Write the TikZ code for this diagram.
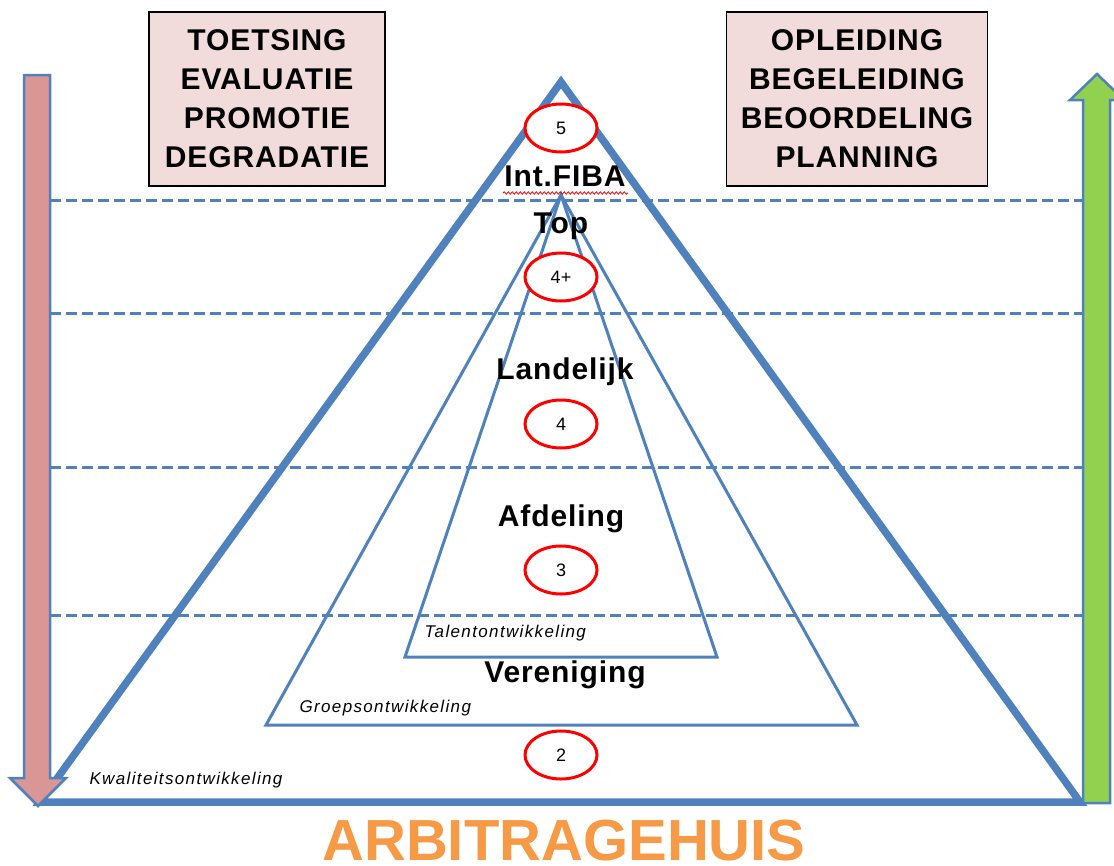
\documentclass[tikz,border=0pt]{standalone}
\usepackage{fontspec}
\setmainfont{Liberation Sans}
\newfontfamily\widesans[LetterSpace=3]{Liberation Sans}
\newfontfamily\loosesans[LetterSpace=8]{Liberation Sans}
\usetikzlibrary{shapes.geometric,decorations.pathmorphing}

\definecolor{pyrblue}{HTML}{4F81BD}
\definecolor{boxpink}{HTML}{F2DCDB}
\definecolor{downred}{HTML}{D99694}
\definecolor{upgreen}{HTML}{92D050}
\definecolor{houseorange}{HTML}{F79A46}

\tikzset{
  levelname/.style={font=\widesans\fontsize{30}{30}\selectfont\bfseries},
  devname/.style={anchor=west, font=\loosesans\fontsize{17}{17}\selectfont\itshape},
  levelnum/.style={shape=ellipse, draw=red, line width=3, fill=white, minimum width=72, minimum height=48, inner sep=0, font=\fontsize{18}{18}\selectfont},
  infobox/.style={draw=black, line width=1.5, fill=boxpink, align=center, inner sep=0, minimum width=236, minimum height=174, font=\widesans\fontsize{30}{39}\selectfont\bfseries},
  levelline/.style={pyrblue, line width=3, dash pattern=on 11 off 5}
}

\begin{document}
\begin{tikzpicture}[x=1pt, y=-1pt]

\useasboundingbox ( 0, 0 ) rectangle ( 1114, 865 );

% Level lines
\draw [levelline] ( 50, 200 ) -- ( 1083, 200 );
\draw [levelline] ( 50, 313 ) -- ( 1083, 313 );
\draw [levelline] ( 50, 467 ) -- ( 1083, 467 );
\draw [levelline] ( 50, 615 ) -- ( 1083, 615 );

% Pyramids
\draw [pyrblue, line width=7.5] ( 561, 82 ) -- ( 1080, 802 ) -- ( 40, 802 ) -- cycle;
\draw [pyrblue, line width=3] ( 561, 195 ) -- ( 857, 725 ) -- ( 266, 725 ) -- cycle;
\draw [pyrblue, line width=3] ( 561, 195 ) -- ( 717, 657 ) -- ( 405, 657 ) -- cycle;

% Arrows
\filldraw [fill=downred, draw=pyrblue, line width=2.5] ( 24, 75 ) -- ( 50, 75 ) -- ( 50, 778 ) -- ( 66, 778 ) -- ( 38, 806 ) -- ( 10, 778 ) -- ( 24, 778 ) -- cycle;
\filldraw [fill=upgreen, draw=pyrblue, line width=2.5] ( 1083, 803 ) -- ( 1083, 100 ) -- ( 1070, 100 ) -- ( 1097, 74 ) -- ( 1124, 100 ) -- ( 1110, 100 ) -- ( 1110, 803 ) -- cycle;

% Boxes
\node (evalbox) at ( 267, 99 ) [infobox] {TOETSING\\EVALUATIE\\PROMOTIE\\DEGRADATIE};
\node (trainbox) at ( 857, 99 ) [infobox, minimum width=261] {OPLEIDING\\BEGELEIDING\\BEOORDELING\\PLANNING};

% Levels
\node (fibanum) at ( 561, 128 ) [levelnum] {5};
\node (fiba) at ( 565, 176 ) [levelname] {Int.FIBA};
\draw [red, line width=0.8, decorate, decoration={snake, amplitude=1.2, segment length=4}] ( 503, 193 ) -- ( 628, 193 );
\node (top) at ( 561, 226 ) [levelname] {Top};
\node (topnum) at ( 561, 277 ) [levelnum] {4+};
\node (land) at ( 565, 372 ) [levelname] {Landelijk};
\node (landnum) at ( 561, 424 ) [levelnum] {4};
\node (afd) at ( 561, 519 ) [levelname] {Afdeling};
\node (afdnum) at ( 561, 570 ) [levelnum] {3};
\node (ver) at ( 565, 675 ) [levelname] {Vereniging};
\node (vernum) at ( 561, 755 ) [levelnum] {2};

% Development labels
\node (talent) at ( 421, 633 ) [devname] {Talentontwikkeling};
\node (groep) at ( 296, 708 ) [devname] {Groepsontwikkeling};
\node (kwal) at ( 86, 780 ) [devname] {Kwaliteitsontwikkeling};

% Title
\node (house) at ( 564, 860 ) [anchor=base, text=houseorange, font=\fontsize{58}{58}\selectfont\bfseries] {ARBITRAGEHUIS};

\end{tikzpicture}
\end{document}
